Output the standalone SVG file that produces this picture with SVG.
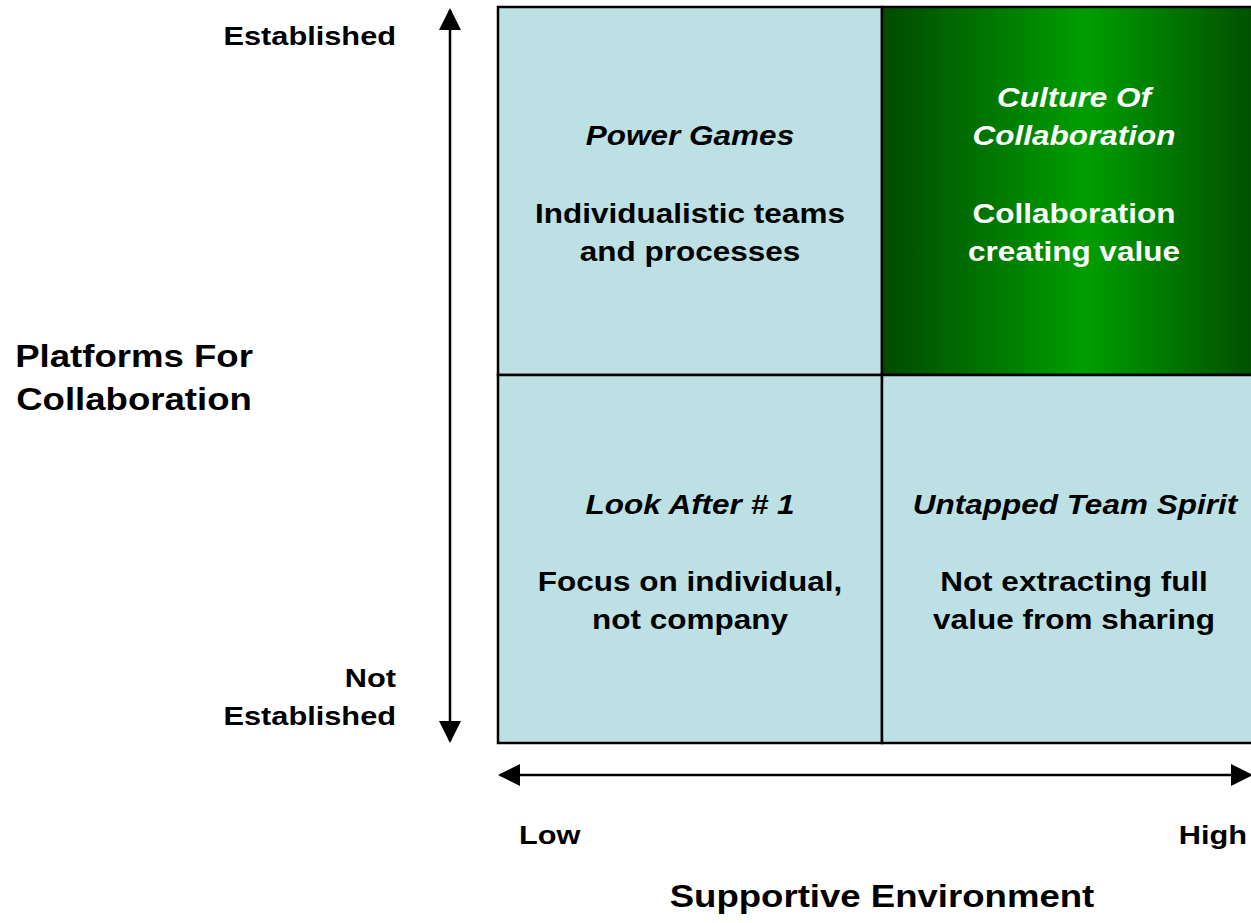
<svg xmlns="http://www.w3.org/2000/svg" width="1251" height="923" viewBox="0 0 1251 923">
<style>
text{font-family:"Liberation Sans",Arial,sans-serif;font-weight:bold;fill:#000}
.q{font-size:28px;text-anchor:middle}
.i{font-style:italic}
.w{fill:#fff}
.ax{font-size:26.5px}
.big{font-size:31px;text-anchor:middle}
.cell{stroke:#000;stroke-width:2.5}
</style>
<defs>
<linearGradient id="g" x1="0" y1="0" x2="1" y2="0">
<stop offset="0" stop-color="#004a00"/>
<stop offset="0.53" stop-color="#009e00"/>
<stop offset="1" stop-color="#004a00"/>
</linearGradient>
</defs>
<g id="quad-power-games">
<rect class="cell" x="498" y="7" width="384" height="368" fill="#bce0e3"/>
<text class="q i" transform="translate(690,145) scale(1.125,1)">Power Games</text>
<text class="q" transform="translate(690,223) scale(1.125,1)">Individualistic teams</text>
<text class="q" transform="translate(690,261) scale(1.125,1)">and processes</text>
</g>
<g id="quad-culture">
<rect class="cell" x="882" y="7" width="384" height="368" fill="url(#g)"/>
<text class="q i w" transform="translate(1074,107) scale(1.125,1)">Culture Of</text>
<text class="q i w" transform="translate(1074,145) scale(1.125,1)">Collaboration</text>
<text class="q w" transform="translate(1074,223) scale(1.125,1)">Collaboration</text>
<text class="q w" transform="translate(1074,261) scale(1.125,1)">creating value</text>
</g>
<g id="quad-look-after">
<rect class="cell" x="498" y="375" width="384" height="368" fill="#bce0e3"/>
<text class="q i" transform="translate(690,514) scale(1.125,1)">Look After # 1</text>
<text class="q" transform="translate(690,591) scale(1.125,1)">Focus on individual,</text>
<text class="q" transform="translate(690,629) scale(1.125,1)">not company</text>
</g>
<g id="quad-untapped">
<rect class="cell" x="882" y="375" width="384" height="368" fill="#bce0e3"/>
<text class="q i" transform="translate(1075,514) scale(1.125,1)">Untapped Team Spirit</text>
<text class="q" transform="translate(1074,591) scale(1.125,1)">Not extracting full</text>
<text class="q" transform="translate(1074,629) scale(1.125,1)">value from sharing</text>
</g>
<g id="connectors">
<line x1="450" y1="10" x2="450" y2="741" stroke="#000" stroke-width="2.5"/>
<path d="M450,8 L439,30 L461,30 Z" fill="#000"/>
<path d="M450,743 L439,721 L461,721 Z" fill="#000"/>
<line x1="500" y1="775" x2="1249" y2="775" stroke="#000" stroke-width="2.5"/>
<path d="M498,775 L520,764 L520,786 Z" fill="#000"/>
<path d="M1253,775 L1231,764 L1231,786 Z" fill="#000"/>
</g>
<g id="labels">
<text class="ax" text-anchor="end" transform="translate(396,45) scale(1.16,1)">Established</text>
<text class="ax" text-anchor="end" transform="translate(396,687) scale(1.16,1)">Not</text>
<text class="ax" text-anchor="end" transform="translate(396,725) scale(1.16,1)">Established</text>
<text class="big" transform="translate(134,367) scale(1.18,1)">Platforms For</text>
<text class="big" transform="translate(134,410) scale(1.18,1)">Collaboration</text>
<text class="ax" transform="translate(519,844) scale(1.16,1)">Low</text>
<text class="ax" text-anchor="end" transform="translate(1247,844) scale(1.16,1)">High</text>
<text class="big" transform="translate(882,907) scale(1.18,1)">Supportive Environment</text>
</g>
</svg>
